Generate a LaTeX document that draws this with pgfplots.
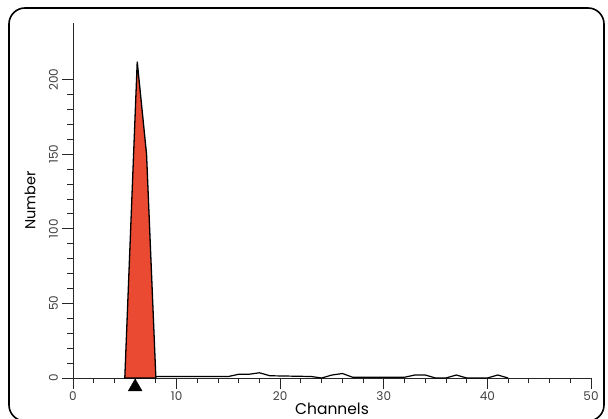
\documentclass[border=0pt]{standalone}
\usepackage{fontspec}
\setmainfont{Poppins}
\usepackage{pgfplots}
\pgfplotsset{compat=1.18}
\definecolor{peakred}{RGB}{234,74,50}
\begin{document}
\begin{tikzpicture}
\begin{axis}[
  name=ax,
  scale only axis,
  width=518pt, height=355pt,
  xmin=0, xmax=50, ymin=0, ymax=238,
  axis x line=bottom, axis y line=left,
  axis line style={-, line width=0.9pt, black!85},
  xtick={0,10,...,50}, minor x tick num=4,
  ytick={0,50,...,200}, minor y tick num=4,
  tick align=outside,
  major tick length=11pt, minor tick length=5.5pt,
  tick style={black!85, line width=0.9pt},
  /pgf/number format/assume math mode=true,
  xticklabel style={font=\fontsize{12}{13}\selectfont, text=black!75, inner sep=1pt, yshift=-1pt},
  yticklabel style={xshift=-3.5pt, rotate=90, anchor=south, font=\fontsize{12}{13}\selectfont, text=black!75, inner sep=0.5pt},
  xlabel={Channels}, ylabel={Number},
  every axis x label/.style={at={(axis description cs:0.5,-0.104)}, anchor=base, font=\fontsize{15.5}{17}\selectfont},
  every axis y label/.style={at={(axis description cs:-0.083,0.5)}, anchor=center, rotate=90, font=\fontsize{14.5}{16}\selectfont},
  clip=false,
]
\addplot[fill=peakred, draw=black, line width=1.3pt] coordinates {
  (5,0) (6.2,212) (7.1,150) (8,0)
} -- cycle;
\addplot[black, line width=1.2pt] coordinates {
  (8,1) (15,1) (16,2.5) (17,2.5) (18,3.5) (19,1.5) (23,1) (24,0)
  (25,2) (26,3) (27,0.5) (32,0.5) (33,2) (34,2) (35,0) (36,0)
  (37,2) (38,0) (40,0) (41,2) (42,0)
};
\addplot[only marks, mark=triangle*, mark size=8pt, black] coordinates {(6,-6)};
\end{axis}
\draw[line width=1.6pt, rounded corners=16pt]
  ([xshift=-64pt,yshift=-43pt]ax.south west) rectangle ([xshift=13pt,yshift=15pt]ax.north east);
\pgfresetboundingbox
\path ([xshift=-73pt,yshift=-41pt]ax.south west) rectangle ([xshift=17pt,yshift=23pt]ax.north east);
\end{tikzpicture}
\end{document}
